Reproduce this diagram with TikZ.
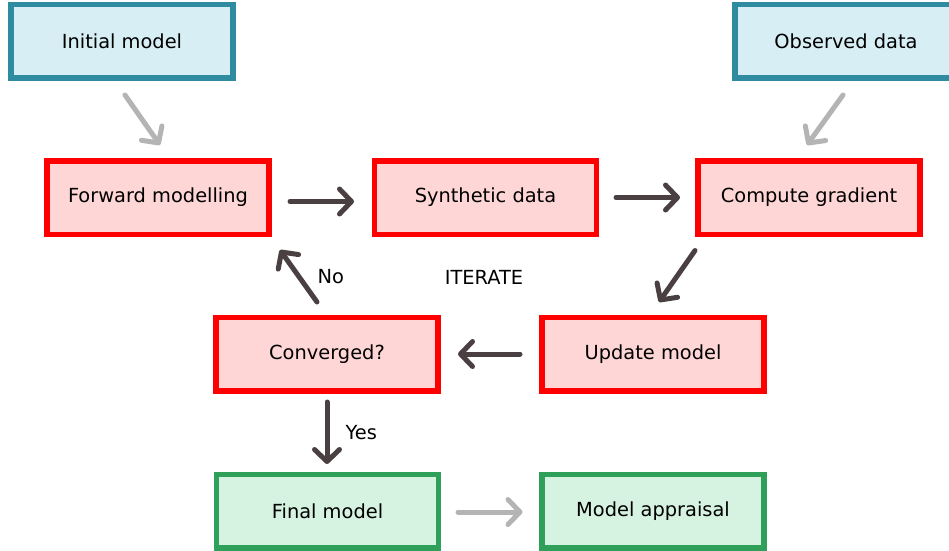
\documentclass[tikz,border=0pt]{standalone}
\usepackage{fontspec}
\setmainfont{DejaVu Sans}
\usepackage{tikz}
\usetikzlibrary{arrows.meta,calc}
\definecolor{TealEdge}{HTML}{2E8BA0}
\definecolor{TealFill}{HTML}{D7EEF4}
\definecolor{RedEdge}{HTML}{FF0000}
\definecolor{RedFill}{HTML}{FFD6D6}
\definecolor{GreenEdge}{HTML}{2EA05A}
\definecolor{GreenFill}{HTML}{D6F3E2}
\definecolor{Ink}{HTML}{4A4042}
\definecolor{Ash}{HTML}{B4B4B4}

\begin{document}
\begin{tikzpicture}[x=1pt,y=-1pt,
  box/.style={draw,line width=5.5pt,minimum width=222pt,minimum height=73.5pt,
    font=\fontsize{19.4}{23}\selectfont},
  inbox/.style={box,draw=TealEdge,fill=TealFill},
  loopbox/.style={box,draw=RedEdge,fill=RedFill},
  outbox/.style={box,draw=GreenEdge,fill=GreenFill},
  flow/.style={Ink,line width=5pt,line cap=round,
    -{Straight Barb[length=12pt,width=25pt,line cap=round,line join=round]}},
  aux/.style={flow,Ash},
  lbl/.style={font=\fontsize{19.4}{23}\selectfont}]
\clip (0,0) rectangle (949,550);
% inputs
\node[inbox] (init) at (122,41) {Initial model};
\node[inbox] (obs) at (846,41) {Observed data};
% inversion loop
\node[loopbox] (fwd) at (158,197.5) {Forward modelling};
\node[loopbox] (syn) at (485.5,197.5) {Synthetic data};
\node[loopbox] (grad) at (809,197.5) {Compute gradient};
\node[loopbox] (conv) at (327,354) {Converged?};
\node[loopbox] (upd) at (653,354) {Update model};
% outputs
\node[outbox] (final) at (327.5,511) {Final model};
\node[outbox] (appr) at (653,511) {Model appraisal};
\node[lbl] (iter) at (484,277) {ITERATE};
\node[lbl,anchor=west] (no) at (314,277) {No};
\node[lbl,anchor=west] (yes) at (342,433) {Yes};
% connectors
\draw[aux] ($(init)+(3,54)$) -- ($(fwd)+(2,-52.5)$);
\draw[aux] ($(obs)+(-3,54)$) -- ($(grad)+(-2,-52.5)$);
\draw[flow] ($(fwd)+(132,4)$) -- ($(syn)+(-131.5,4)$);
\draw[flow] ($(syn)+(130.5,0)$) -- ($(grad)+(-129,0)$);
\draw[flow] ($(grad)+(-114,53)$) -- ($(upd)+(6,-52)$);
\draw[flow] ($(upd)+(-133,0)$) -- ($(conv)+(131,0)$);
\draw[flow] ($(conv)+(-10,-52)$) -- ($(fwd)+(122,52.5)$);
\draw[flow] ($(conv)+(0,48)$) -- ($(final)+(-0.5,-47)$);
\draw[aux] ($(final)+(130.5,1)$) -- ($(appr)+(-130.5,1)$);
\end{tikzpicture}
\end{document}
